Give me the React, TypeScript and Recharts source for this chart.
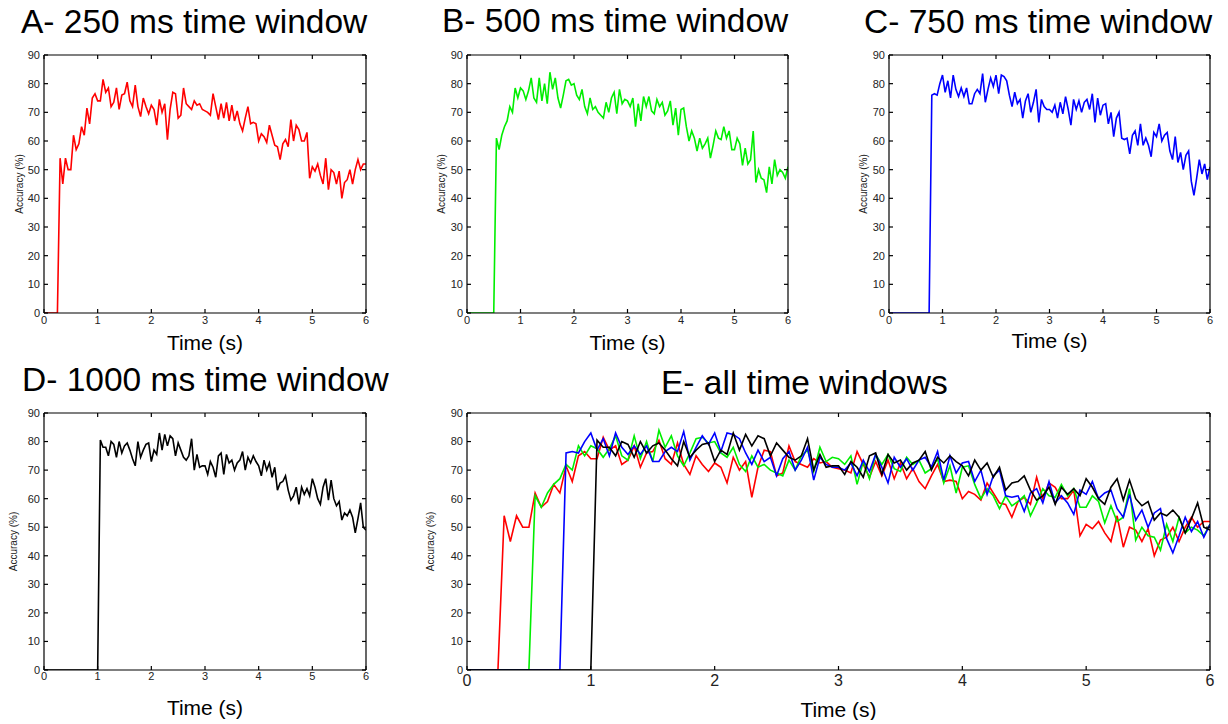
import React from 'react';
import { LineChart, Line, XAxis, YAxis } from 'recharts';

// accuracy (%) sampled every 50 ms from 0 to 6 s
const TIME_STEP = 0.05;

const acc250 = [
  0, 0, 0, 0, 0, 0, 54, 45, 54, 50, 50, 62, 57, 59, 65, 62, 71.5, 66, 75, 76.5,
  74, 74, 81.5, 77, 78.5, 72, 73.5, 78.5, 71, 76, 76.5, 80.5, 74, 72, 79.5, 72, 68.5, 75, 72, 69.5,
  72.5, 71, 65.5, 74.5, 70, 73, 60.5, 71, 77, 76.5, 68, 69, 78.5, 73, 72, 71, 74, 72.5, 73, 71,
  70.5, 70, 69, 76.5, 72, 67.5, 73, 68, 73.5, 67, 72.5, 67, 70.5, 66, 63.5, 68, 72, 66, 66.5, 66,
  60, 62.5, 61.5, 59.5, 65.5, 62, 58.5, 58, 53.5, 59, 60.5, 58, 67.5, 60, 65.5, 64, 60, 60, 63, 47,
  51, 49.5, 52, 48, 45, 54, 43, 50, 49, 45, 49.5, 40, 45.5, 46.5, 50, 45, 50, 53.5, 50, 52,
  52,
];

const acc500 = [
  0, 0, 0, 0, 0, 0, 0, 0, 0, 0, 0, 61, 57, 62, 65, 67, 72, 70, 78.5, 75,
  78.5, 77.5, 74.5, 77.5, 82, 75, 73.5, 82, 74, 80, 73, 84, 78, 82, 75, 71.5, 76, 81, 81.5, 79.5,
  80, 76, 74.5, 78, 72, 69.5, 75, 71, 72, 70, 69, 68, 73.5, 70, 75, 77, 69.5, 78, 73, 74.5,
  74, 72, 75, 65, 73, 67, 75.5, 72, 75.5, 70.5, 69.5, 74.5, 72, 73.5, 69, 70.5, 74, 65.5, 71.5, 62,
  71, 71.5, 65, 60, 63.5, 61, 56.5, 61, 57.5, 59, 61, 54, 58.5, 63.5, 61, 60.5, 65, 61, 63.5, 57,
  57, 61, 59, 51.5, 57.5, 52, 53.5, 63.5, 45.5, 50, 47, 46.5, 42, 51, 45, 53.5, 48, 50, 49, 47,
  51,
];

const acc750 = [
  0, 0, 0, 0, 0, 0, 0, 0, 0, 0, 0, 0, 0, 0, 0, 0, 76, 76.5, 76, 80,
  83, 77, 81, 75, 83, 78, 75.5, 78.5, 75.5, 78.5, 73, 73, 76.5, 78, 76.5, 83.5, 73.5, 78, 82, 79,
  83, 76.5, 83, 82.5, 81, 76, 72, 77, 73, 74.5, 68, 74, 76.5, 70, 73.5, 78, 66.5, 74.5, 72, 71,
  71, 70, 72.5, 68, 73.5, 69.5, 75.5, 71, 65.5, 74.5, 71, 74, 70, 73.5, 74.5, 71, 76.5, 66.5, 75, 69,
  72.5, 73, 66, 70, 61.5, 68, 70, 61, 60.5, 61, 55.5, 62, 63.5, 58.5, 66, 58.5, 61, 58.5, 54.5, 63,
  61.5, 66, 60, 62, 63, 56.5, 53.5, 61.5, 52.5, 56, 50, 55, 56.5, 46, 41, 47, 53.5, 48.5, 52, 46.5,
  51,
];

const acc1000 = [
  0, 0, 0, 0, 0, 0, 0, 0, 0, 0, 0, 0, 0, 0, 0, 0, 0, 0, 0, 0,
  0, 80.5, 78, 78, 75, 80, 79, 74.5, 80, 76, 78.5, 79.5, 77, 74, 71.5, 80, 74.5, 77, 79, 79.5,
  73, 77, 75.5, 83, 77, 82.5, 78.5, 82, 81, 75, 79.5, 77, 74.5, 73.5, 75, 81, 70, 75.5, 71, 71.5,
  71.5, 68.5, 73, 71, 67.5, 75, 76, 68.5, 75.5, 72.5, 73.5, 70, 72.5, 73.5, 76.5, 70, 74.5, 72.5, 75, 73,
  71.5, 68, 73.5, 70, 72.5, 67.5, 71, 63, 65.5, 66, 68, 63, 59.5, 61, 64, 58, 64, 61.5, 63.5, 61,
  67, 64, 60, 58, 64, 67, 59.5, 66.5, 60, 57.5, 59, 52.5, 55, 54, 56, 53.5, 48, 53, 58.5, 50,
  49,
];

const timeTicks = [0, 1, 2, 3, 4, 5, 6];
const accTicks = [0, 10, 20, 30, 40, 50, 60, 70, 80, 90];

const rows = acc250.map((v, i) => ({
  t: Number((i * TIME_STEP).toFixed(2)),
  a: v,
  b: acc500[i],
  c: acc750[i],
  d: acc1000[i],
}));

const SERIES: Record<string, string> = {
  a: '#ff0000',
  b: '#00ee00',
  c: '#0000ff',
  d: '#000000',
};

const TITLES = [
  { text: 'A- 250 ms time window', x: 21, y: 33 },
  { text: 'B- 500 ms time window', x: 442, y: 32 },
  { text: 'C- 750 ms time window', x: 864, y: 33 },
  { text: 'D- 1000 ms time window', x: 22, y: 391 },
  { text: 'E- all time windows', x: 661, y: 394 },
];

// plot boxes: [left, top, right, bottom]
const PANELS = [
  { box: [44, 55, 366, 313], keys: ['a'], xFont: 11, xGap: 3, xLabelGap: 22, yLabelDist: 25 },
  { box: [467, 55, 788, 313], keys: ['b'], xFont: 11, xGap: 3, xLabelGap: 22, yLabelDist: 26 },
  { box: [889, 55, 1210, 313], keys: ['c'], xFont: 11, xGap: 3, xLabelGap: 20, yLabelDist: 26 },
  { box: [44, 413, 366, 670], keys: ['d'], xFont: 11, xGap: 2, xLabelGap: 30, yLabelDist: 31 },
  { box: [467, 413, 1210, 670], keys: ['a', 'b', 'c', 'd'], xFont: 16, xGap: 5, xLabelGap: 32, yLabelDist: 37 },
];

const TICK_LEN = 4;
const axisStyle = { stroke: '#000', strokeWidth: 1.2 };
const noLabel = () => <g />;

function Panel({ box, keys, xFont, xGap, xLabelGap, yLabelDist }: any) {
  const [x0, y0, x1, y1] = box;
  const yw = 50;
  const mr = 10;
  const mt = 10;
  const xh = 50;
  const width = x1 - x0 + yw + 1 + mr;
  const height = y1 - y0 + mt + 1 + xh;

  return (
    <div style={{ position: 'absolute', left: x0 - yw, top: y0 - mt - 1 }}>
      <LineChart width={width} height={height} data={rows} margin={{ top: mt, right: mr, left: 0, bottom: 0 }}>
        <XAxis
          xAxisId="bottom"
          dataKey="t"
          type="number"
          domain={[0, 6]}
          allowDataOverflow
          ticks={timeTicks}
          height={xh}
          stroke="#000"
          axisLine={axisStyle}
          tickLine={axisStyle}
          tickSize={-TICK_LEN}
          tickMargin={TICK_LEN + xGap}
          tick={{ fontSize: xFont, fill: '#222' }}
          label={{ value: 'Time (s)', position: 'insideTop', offset: xLabelGap, fontSize: 21, fill: '#000' }}
        />
        <XAxis
          xAxisId="top"
          orientation="top"
          dataKey="t"
          type="number"
          domain={[0, 6]}
          allowDataOverflow
          ticks={timeTicks}
          height={1}
          stroke="#000"
          axisLine={axisStyle}
          tickLine={axisStyle}
          tickSize={-TICK_LEN}
          tick={noLabel}
        />
        <YAxis
          yAxisId="left"
          type="number"
          domain={[0, 90]}
          allowDataOverflow
          ticks={accTicks}
          width={yw}
          stroke="#000"
          axisLine={axisStyle}
          tickLine={axisStyle}
          tickSize={-TICK_LEN}
          tickMargin={TICK_LEN + 4}
          tick={{ fontSize: 11, fill: '#222' }}
          label={{
            value: 'Accuracy (%)',
            angle: -90,
            position: 'insideLeft',
            offset: yw - yLabelDist,
            fontSize: 10,
            fill: '#222',
            style: { textAnchor: 'middle' },
          }}
        />
        <YAxis
          yAxisId="right"
          orientation="right"
          type="number"
          domain={[0, 90]}
          allowDataOverflow
          ticks={accTicks}
          width={1}
          stroke="#000"
          axisLine={axisStyle}
          tickLine={axisStyle}
          tickSize={-TICK_LEN}
          tick={noLabel}
        />
        {keys.map((k: string) => (
          <Line
            key={k}
            xAxisId="bottom"
            yAxisId="left"
            type="linear"
            dataKey={k}
            stroke={SERIES[k]}
            strokeWidth={1.6}
            dot={false}
            isAnimationActive={false}
          />
        ))}
      </LineChart>
    </div>
  );
}

export default function App() {
  return (
    <div
      style={{
        position: 'absolute',
        left: 0,
        top: 0,
        width: 1228,
        height: 724,
        background: '#fff',
        fontFamily: '"Liberation Sans", Arial, sans-serif',
      }}
    >
      {PANELS.map((p, i) => (
        <Panel key={i} {...p} />
      ))}
      <svg width={1228} height={724} style={{ position: 'absolute', left: 0, top: 0, pointerEvents: 'none' }}>
        {TITLES.map((t) => (
          <text key={t.text} x={t.x} y={t.y} fontSize={33.5} fill="#000">
            {t.text}
          </text>
        ))}
      </svg>
    </div>
  );
}
